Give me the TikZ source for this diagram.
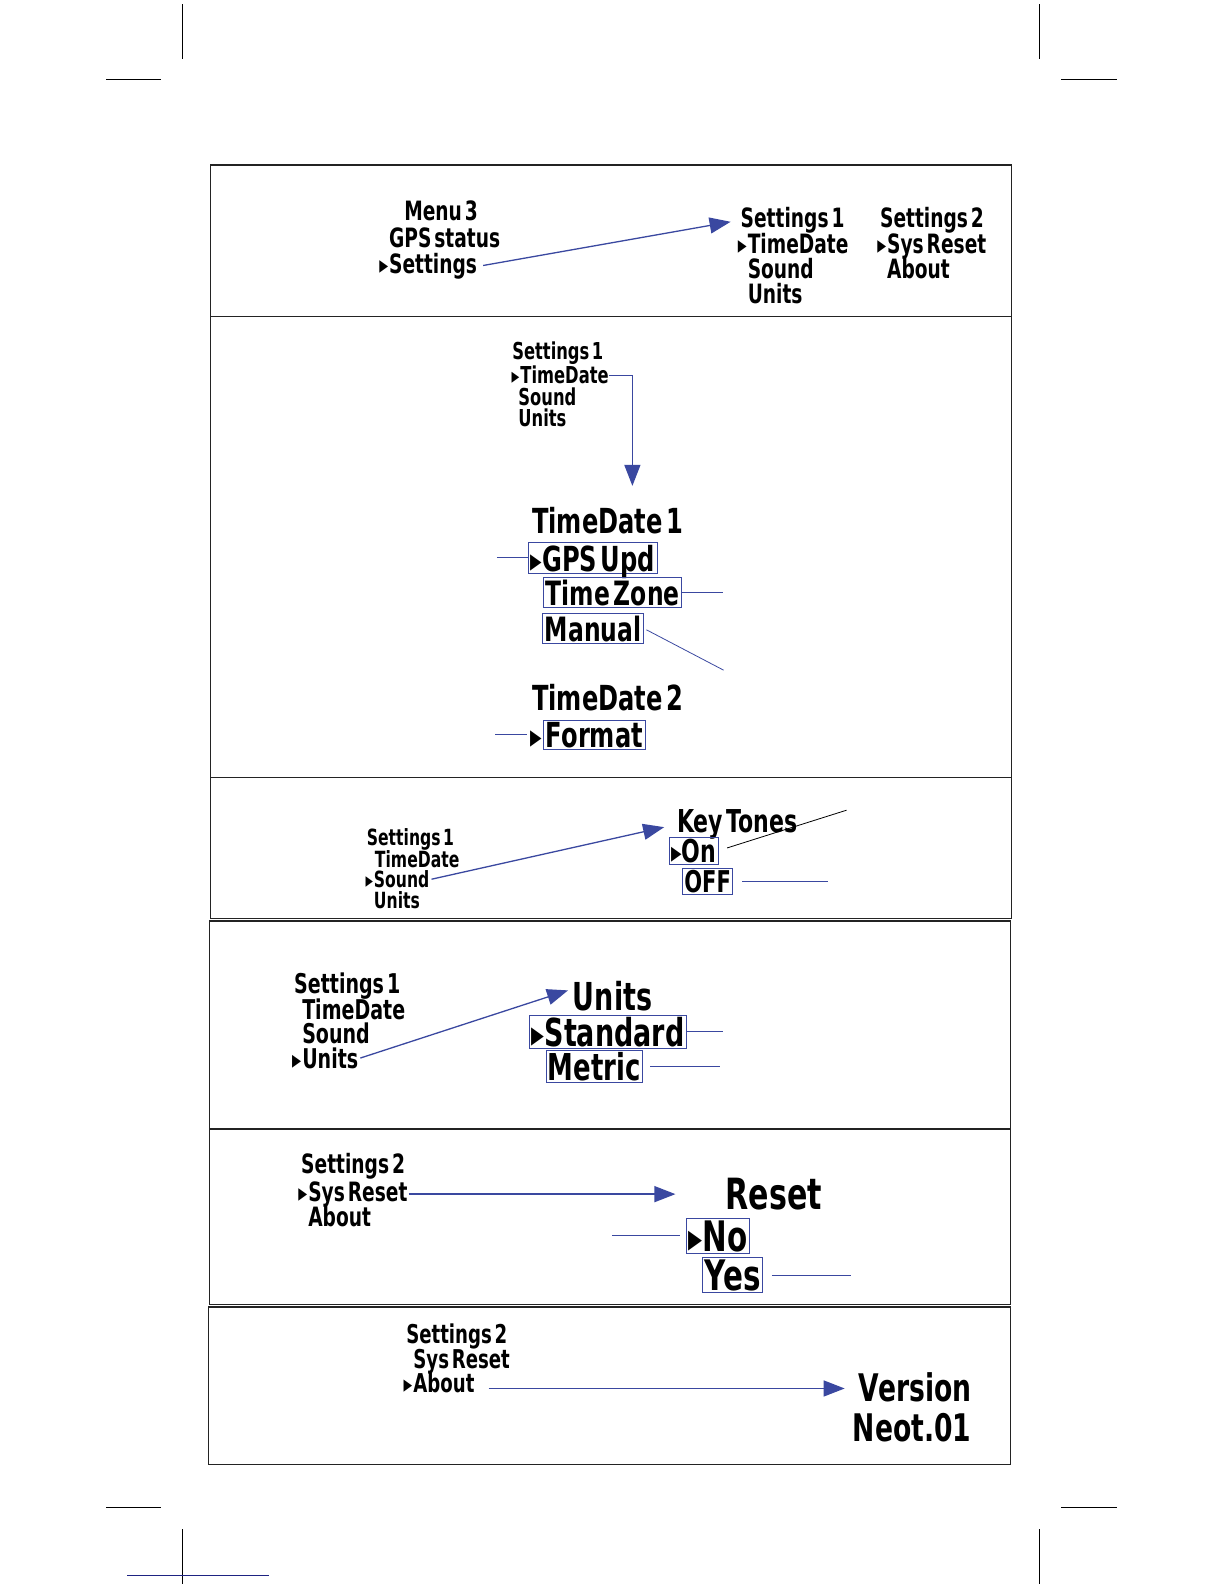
\documentclass[tikz,border=0pt]{standalone}
\usepackage{fontspec}
\usepackage{tikz}
\usetikzlibrary{arrows.meta,positioning,calc}
\newfontfamily\lcdfont[FakeStretch=0.7,WordSpace=0.45]{DejaVu Sans Bold}
\newcommand{\lcdsz}[1]{\lcdfont\fontsize{#1bp}{#1bp}\selectfont}
\newcommand{\ptr}{\scalebox{0.95}{▸}}
\newcommand{\cur}{\llap{\ptr\kern1bp}}
\definecolor{lcdblue}{RGB}{58,72,160}
\definecolor{framegray}{RGB}{35,35,35}
\definecolor{trimblue}{RGB}{30,35,130}

\begin{document}
\begin{tikzpicture}[x=1.0099bp, y=-1.0099bp,
    lcd/.style={inner sep=0pt, anchor=base west, font=\lcdsz{#1}},
    sel/.style={draw=lcdblue, line width=0.8bp, inner xsep=2bp,
        inner ysep=2bp, text depth=0pt, anchor=south west,
        font=\lcdsz{#1}},
    flow/.style={-{Triangle[length=21bp,width=16bp]}, line width=1.3bp,
        lcdblue},
    lead/.style={lcdblue, line width=0.8bp},
    panel/.style={draw=framegray, line width=1.3bp},
    crop/.style={black, line width=0.7bp},
]
\useasboundingbox (0,0) rectangle (1212,1568);

% ── Trim marks ──
\draw[crop] (181,4) -- (181,58.5);
\draw[crop] (1029,4) -- (1029,58.5);
\draw[crop, line width=1.1bp] (105,79) -- (159.5,79);
\draw[crop, line width=1.1bp] (1050.5,79) -- (1105.5,79);
\draw[crop, line width=1.1bp] (105,1492) -- (159.5,1492);
\draw[crop, line width=1.1bp] (1050.5,1492) -- (1105.5,1492);
\draw[crop] (181,1514) -- (181,1568);
\draw[crop] (1029,1514) -- (1029,1568);
\draw[trimblue, line width=1.3bp] (126,1559.5) -- (266,1559.5);

% ── Panel frames ──
\draw[panel] (208.6,163.4) rectangle (1001.4,909);
\draw[panel] (208.6,313.5) -- (1001.4,313.5);
\draw[panel] (208.6,769.4) -- (1001.4,769.4);
\draw[panel] (207.3,911.7) rectangle (1000.4,1291.2);
\draw[panel] (207.3,1117.6) -- (1000.4,1117.6);
\draw[panel] (206.3,1293.9) rectangle (1000.4,1449.7);

% ── Menu 3 -> Settings ──
\node[lcd=26.6] (m3menu) at (400,218) {Menu 3};
\node[lcd=26.6] (m3gps) at (385,245) {GPS status};
\node[lcd=26.6] (m3set) at (385,271) {\cur Settings};

\node[lcd=26.6] (p1s1) at (733,225) {Settings 1};
\node[lcd=26.6] (p1td) at (740,251) {\cur TimeDate};
\node[lcd=26.6] (p1snd) at (740,276) {Sound};
\node[lcd=26.6] (p1un) at (740,300) {Units};
\node[lcd=26.6] (p1s2) at (871,225) {Settings 2};
\node[lcd=26.6] (p1sr) at (878,251) {\cur Sys Reset};
\node[lcd=26.6] (p1ab) at (878,276) {About};

\draw[flow, shorten <=6bp, shorten >=10bp] (m3set.east) -- (p1s1.west);

% ── TimeDate ──
\node[lcd=23.3] (p2s1) at (507,356) {Settings 1};
\node[lcd=23.3] (p2td) at (515,380) {\cur TimeDate};
\node[lcd=23.3] (p2snd) at (513,401) {Sound};
\node[lcd=23.3] (p2un) at (513,422) {Units};
\coordinate (p2drop) at (626,481);
\draw[flow] (p2td.east) -| (p2drop);

\node[lcd=34.5] (td1) at (526.5,528) {TimeDate 1};
\node[sel=34.5] (gps) at (523,567.7) {\ptr GPS Upd};
\node[sel=33.5] (tz) at (538,601.4) {Time Zone};
\node[sel=33.5] (man) at (537,637) {Manual};
\node[lcd=34.5] (td2) at (526.5,703) {TimeDate 2};
\node[sel=34.5] (fmt) at (538,742.7) {\llap{\ptr\kern4bp}Format};

\coordinate (gpsL) at (491.8,551.9);
\coordinate (tzR) at (715.6,588.5);
\coordinate (manR) at (716.3,663.4);
\coordinate (fmtL) at (490,727);
\draw[lead] (gpsL) -- (gpsL -| gps.west);
\draw[lead] (tz.east) -- (tz.east -| tzR);
\draw[lead, shorten <=3bp] (man.east) -- (manR);
\draw[lead] (fmtL) -- ([xshift=-16bp]fmtL -| fmt.west);

% ── Sound ──
\node[lcd=22.3] (p3s1) at (363,837) {Settings 1};
\node[lcd=22.3] (p3td) at (371,859) {TimeDate};
\node[lcd=22.3] (p3snd) at (370,879) {\cur Sound};
\node[lcd=22.3] (p3un) at (370,899) {Units};

\node[lcd=31.5] (kt) at (670,824) {Key Tones};
\node[sel=31.5] (on) at (662,856) {\ptr On};
\node[sel=30] (off) at (675,886) {OFF};

\draw[flow, shorten <=2bp, shorten >=13bp] (p3snd.east) -- (kt.west);
\coordinate (ktR) at (838,802);
\coordinate (offR) at (820,871);
\draw[lead, black, shorten <=9bp] (on.east) -- (ktR);
\draw[lead, shorten <=9bp] (off.east) -- (off.east -| offR);

% ── Units ──
\node[lcd=27.2] (p4s1) at (291,983) {Settings 1};
\node[lcd=27.2] (p4td) at (299,1009) {TimeDate};
\node[lcd=27.2] (p4snd) at (299,1033) {Sound};
\node[lcd=27.2] (p4un) at (299,1058) {\cur Units};

\node[lcd=38.5] (un) at (567,1000) {Units};
\node[sel=38.5] (std) at (524,1038) {\ptr Standard};
\node[sel=37] (met) at (540,1072) {Metric};

\draw[flow, shorten <=2bp, shorten >=5bp] (p4un.east) -- (un.170);
\coordinate (stdR) at (716,1024);
\coordinate (metR) at (713,1059);
\draw[lead] (std.east) -- (std.east -| stdR);
\draw[lead, shorten <=7bp] (met.east) -- (met.east -| metR);

% ── Sys Reset ──
\node[lcd=26.6] (p5s2) at (298,1162) {Settings 2};
\node[lcd=26.6] (p5sr) at (305,1189) {\cur Sys Reset};
\node[lcd=26.6] (p5ab) at (305,1214) {About};

\node[lcd=43] (rs) at (718,1197.5) {Reset};
\node[sel=42] (no) at (679.5,1241) {\ptr No};
\node[sel=42] (yes) at (695,1279.7) {Yes};

\draw[flow, shorten <=1bp, shorten >=11bp] (p5sr.east) -- (p5sr.east -| no.west);
\coordinate (noL) at (606,1223);
\coordinate (yesR) at (842,1269);
\draw[lead, shorten >=6bp] (noL) -- (noL -| no.west);
\draw[lead, shorten <=9bp] (yes.east) -- (yes.east -| yesR);

% ── About ──
\node[lcd=25.9] (p6s2) at (402,1330) {Settings 2};
\node[lcd=25.9] (p6sr) at (409,1355) {Sys Reset};
\node[lcd=25.9] (p6ab) at (409,1378) {\cur About};

\node[lcd=38] (ver) at (850,1387) {Version};
\node[lcd=38] (fw) at (844,1427) {Neot.01};

\draw[flow, shorten <=14bp, shorten >=14bp] ($(p6ab.east)+(0,6)$)
    -- ($(p6ab.east -| ver.west)+(0,6)$);

\end{tikzpicture}
\end{document}
